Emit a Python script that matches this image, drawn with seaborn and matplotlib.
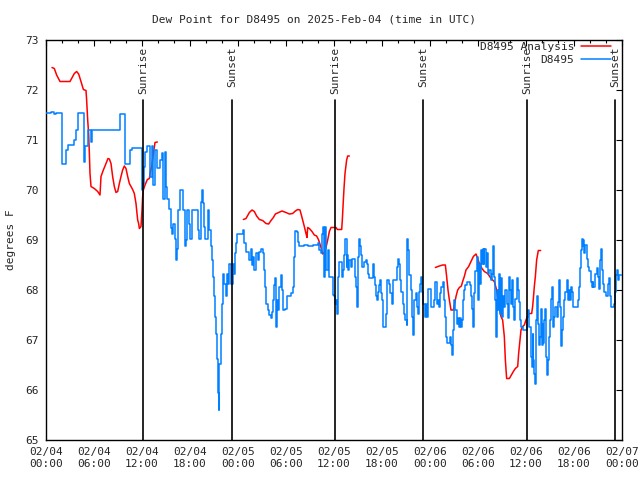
import matplotlib
matplotlib.use("Agg")
import matplotlib.pyplot as plt
import matplotlib.dates as mdates
from matplotlib.lines import Line2D
import numpy as np
import pandas as pd
import seaborn as sns

START = pd.Timestamp("2025-02-04 00:00")

# station observations (hours after start, deg F)
obs_hours = [
    0.0, 0.6, 1.0, 1.3, 2.0, 2.5, 2.75, 3.3, 3.5, 3.75, 4.0, 4.7, 4.9, 5.2, 5.6, 5.75,
    9.2, 9.9, 10.5, 10.7, 12.0, 12.08, 12.25, 12.375, 12.67, 13.0, 13.21, 13.42, 13.625, 13.92,
    14.25, 14.46, 14.67, 14.875, 15.0, 15.17, 15.42, 15.58, 15.75, 15.92, 16.125, 16.25, 16.42,
    16.54, 16.75, 17.17, 17.375, 17.5, 17.67, 17.83, 18.0, 18.21, 19.04, 19.17, 19.33, 19.5,
    19.58, 19.75, 19.875, 20.29, 20.42, 20.58, 20.71, 20.83, 21.0, 21.125, 21.25, 21.42, 21.54,
    21.58, 21.67, 21.83, 21.96, 22.08, 22.25, 22.5, 22.67, 22.79, 22.92, 23.125, 23.33, 23.5,
    23.625, 23.75, 23.92,
    24.67, 24.79, 25.0, 25.42, 25.625, 25.75, 25.92, 26.04, 26.25, 26.46, 26.67, 26.875, 27.08,
    27.21, 27.33, 27.5, 27.71, 27.92, 28.125, 28.25, 28.42, 28.54, 28.67, 28.75, 28.875, 29.0,
    29.17, 29.375, 29.5, 29.67, 29.92, 30.08, 30.625, 30.83, 31.04, 31.17, 31.375, 31.5, 31.67,
    32.29, 32.71, 33.33, 33.96, 34.17, 34.375, 34.5, 34.67, 34.79, 34.92, 35.0, 35.21, 35.42,
    35.92, 36.04, 36.125, 36.25, 36.42, 36.54, 36.67, 36.96, 37.08, 37.25, 37.42, 37.58, 37.67,
    37.79, 37.92, 38.08, 38.25, 38.625, 38.75, 38.92, 39.04, 39.17, 39.25, 39.375, 39.5, 39.79,
    40.0, 40.17, 40.29, 40.42, 40.83, 41.0, 41.125, 41.25, 41.42, 41.54, 41.67, 41.75, 41.875,
    42.0, 42.17, 42.5, 42.67, 42.83, 43.0, 43.21, 43.42, 43.83, 43.96, 44.08, 44.25, 44.42,
    44.58, 44.75, 44.92, 45.08, 45.17, 45.29, 45.42, 45.58, 45.71, 45.92, 46.04, 46.21, 46.33,
    46.46, 46.58, 46.75, 46.92, 47.04, 47.17, 47.375, 47.5, 47.58, 47.71,
    48.125, 48.54, 48.67, 48.83, 48.96, 49.08, 49.25, 49.42, 49.58, 49.71, 49.83, 50.0, 50.125,
    50.54, 50.67, 50.75, 50.92, 51.04, 51.17, 51.33, 51.46, 51.58, 51.75, 51.92, 52.0, 52.17,
    52.29, 52.42, 52.58, 53.0, 53.125, 53.25, 53.42, 53.54, 53.67, 53.83, 53.96, 54.08, 54.25,
    54.375, 54.5, 54.58, 54.71, 54.79, 55.0, 55.125, 55.25, 55.42, 55.58, 55.71, 55.83, 55.96,
    56.08, 56.21, 56.33, 56.46, 56.58, 56.71, 56.83, 56.96, 57.08, 57.25, 57.42, 57.58, 57.71,
    57.83, 58.0, 58.125, 58.25, 58.42, 58.54, 58.67, 58.83, 58.96, 59.08, 59.25, 59.375, 59.58,
    60.08, 60.29, 60.42, 60.58, 60.71, 60.83, 60.92, 61.04, 61.17, 61.25, 61.42, 61.54, 61.67,
    61.75, 61.83, 61.96, 62.08, 62.17, 62.25, 62.375, 62.5, 62.67, 62.79, 62.92, 63.0, 63.08,
    63.21, 63.33, 63.42, 63.54, 63.67, 63.83, 63.96, 64.08, 64.17, 64.25, 64.375, 64.5, 64.67,
    64.79, 64.92, 65.08, 65.21, 65.29, 65.42, 65.5, 65.625, 65.75, 65.92, 66.54, 66.67, 66.75,
    66.83, 66.96, 67.08, 67.17, 67.29, 67.42, 67.58, 67.79, 67.92, 68.08, 68.21, 68.33, 68.42,
    68.625, 68.83, 68.96, 69.08, 69.25, 69.375, 69.5, 69.67, 69.79, 70.0, 70.21, 70.42, 70.5,
    70.67, 71.0, 71.125, 71.25, 71.42, 71.54, 71.67, 72.0,
]
obs_values = [
    71.54, 71.57, 71.52, 71.55, 70.53, 70.8, 70.9, 70.9, 71.0, 71.2, 71.54, 70.57, 70.87, 71.2, 70.97, 71.21,
    71.53, 70.53, 70.8, 70.85, 70.0, 70.13, 70.47, 70.77, 70.87, 70.27, 70.87, 70.1, 70.8, 70.43,
    70.6, 70.73, 69.83, 70.77, 70.07, 69.83, 69.63, 69.23, 69.13, 69.33, 69.03, 68.6, 68.83,
    69.6, 70.0, 69.6, 68.87, 69.0, 69.6, 69.33, 69.03, 69.6, 69.2, 69.03, 69.77, 70.0,
    69.73, 69.27, 69.03, 69.6, 69.2, 68.87, 68.6, 68.27, 67.87, 67.47, 67.13, 66.63, 65.93,
    65.6, 66.53, 67.13, 67.73, 68.33, 68.13, 67.87, 68.33, 68.13, 68.53, 68.13, 68.53, 68.33,
    68.73, 68.93, 69.13,
    69.21, 68.93, 68.77, 68.6, 68.83, 68.5, 68.67, 68.4, 68.73, 68.6, 68.77, 68.83, 68.73,
    68.4, 68.07, 67.73, 67.6, 67.5, 67.43, 67.57, 67.8, 68.1, 68.23, 67.27, 67.8, 67.6,
    68.07, 68.3, 68.0, 67.6, 67.63, 67.87, 67.93, 68.07, 68.67, 69.19, 69.17, 68.97, 68.87,
    68.9, 68.87, 68.9, 68.93, 68.8, 68.73, 69.13, 69.27, 68.27, 69.27, 68.4, 68.8, 68.27,
    67.9, 67.87, 67.73, 67.8, 67.53, 68.27, 68.57, 68.27, 68.4, 68.7, 69.03, 68.47, 68.7,
    68.4, 68.6, 68.47, 68.63, 68.27, 68.07, 67.67, 68.67, 69.03, 68.87, 68.7, 68.47, 68.57,
    68.61, 68.53, 68.33, 68.23, 68.52, 68.27, 68.1, 67.87, 67.8, 67.97, 68.1, 68.2, 67.93,
    67.8, 67.27, 67.53, 68.21, 68.13, 67.93, 67.73, 68.21, 68.47, 68.63, 68.53, 68.2, 67.97,
    67.73, 67.53, 67.4, 67.3, 69.03, 68.8, 68.3, 68.0, 67.47, 67.1, 67.8, 67.93, 67.67,
    67.53, 67.97, 68.13, 68.27, 67.97, 67.73, 67.47, 67.73, 67.47, 68.03,
    67.67, 67.8, 68.17, 67.73, 67.8, 67.67, 67.93, 68.07, 68.17, 67.8, 67.47, 67.07, 66.93,
    67.07, 66.9, 66.7, 67.2, 67.8, 67.6, 67.33, 67.43, 67.27, 67.43, 67.27, 67.4, 67.8,
    68.0, 68.1, 68.17, 68.1, 67.87, 67.63, 67.27, 67.93, 68.37, 68.67, 67.8, 68.53, 68.13,
    68.8, 68.53, 68.83, 68.53, 68.83, 68.47, 68.73, 68.33, 68.4, 68.2, 68.33, 68.87, 68.27,
    67.8, 67.07, 68.0, 67.6, 68.33, 67.53, 68.23, 67.47, 67.87, 67.67, 68.0, 67.73, 67.43,
    68.27, 68.0, 67.73, 68.2, 67.67, 67.4, 67.83, 68.23, 68.0, 67.77, 67.4, 67.27, 67.2,
    67.47, 67.6, 67.27, 66.67, 66.47, 67.13, 66.6, 66.33, 66.13, 67.4, 67.87, 67.33, 66.9,
    67.07, 67.63, 66.9, 67.33, 66.93, 67.4, 67.63, 66.67, 66.3, 66.6, 67.07, 67.4, 67.83,
    68.07, 67.6, 67.27, 67.47, 67.67, 67.47, 67.77, 67.97, 68.2, 67.67, 66.87, 67.2, 67.47,
    67.8, 67.97, 68.2, 68.07, 67.8, 68.0, 67.8, 68.07, 67.97, 67.67, 67.8, 68.07, 68.43,
    68.8, 69.03, 68.87, 69.0, 68.73, 68.9, 68.63, 68.47, 68.37, 68.17, 68.07, 68.17, 68.07,
    68.33, 68.43, 68.27, 68.03, 68.6, 68.83, 68.4, 68.13, 67.97, 67.87, 68.13, 68.23, 67.87,
    67.67, 67.73, 67.97, 68.3, 68.4, 68.2, 68.3, 68.3,
]

# analysis runs, one block per day
ana_hours = [
    [0.75, 1.04, 1.33, 1.75, 3.0, 3.54, 3.83, 4.08, 4.375, 4.67, 5.0, 5.08, 5.21, 5.33, 5.42,
     5.5, 5.625, 6.04, 6.46, 6.75, 6.875, 7.17, 7.5, 7.75, 7.92, 8.125, 8.33, 8.54, 8.75, 8.96,
     9.17, 9.375, 9.58, 9.79, 10.0, 10.21, 10.42, 10.625, 10.83, 11.04, 11.25, 11.375, 11.46,
     11.58, 11.67, 11.875, 12.0, 12.08, 12.17, 12.375, 12.67, 12.92, 13.0, 13.21, 13.42,
     13.625, 13.92],
    [24.67, 25.0, 25.42, 25.75, 26.04, 26.33, 26.67, 27.08, 27.5, 27.83, 28.125, 28.42, 28.67,
     29.08, 29.5, 30.0, 30.42, 30.83, 31.17, 31.46, 31.75, 31.92, 32.08, 32.29, 32.5, 32.625,
     32.71, 32.92, 33.25, 33.54, 33.83, 34.08, 34.375, 34.58, 34.79, 35.0, 35.21, 35.42,
     35.625, 36.25, 36.42, 36.96, 37.04, 37.17, 37.25, 37.375, 37.58, 37.71, 37.92],
    [48.67, 49.17, 49.58, 49.92, 50.08, 50.25, 50.42, 50.625, 50.92, 51.08, 51.25, 51.46, 51.67,
     51.92, 52.08, 52.29, 52.5, 52.83, 53.125, 53.42, 53.75, 53.96, 54.17, 54.5, 54.79, 55.21,
     55.625, 56.04, 56.33, 56.58, 56.875, 57.08, 57.29, 57.42, 57.58, 57.92, 58.17, 58.42,
     58.67, 58.96, 59.08, 59.25, 59.375, 59.58, 59.79, 60.0, 60.17, 60.42, 60.71, 60.83, 60.92,
     61.04, 61.17, 61.33, 61.54, 61.83],
]
ana_values = [
    [72.45, 72.43, 72.3, 72.17, 72.17, 72.33, 72.37, 72.32, 72.17, 72.01, 71.99, 71.8, 71.4,
     71.13, 70.73, 70.33, 70.07, 70.03, 69.97, 69.9, 70.27, 70.4, 70.53, 70.63, 70.62, 70.53,
     70.27, 70.07, 69.95, 69.97, 70.13, 70.27, 70.4, 70.48, 70.43, 70.27, 70.13, 70.07, 70.01,
     69.93, 69.73, 69.53, 69.4, 69.33, 69.23, 69.27, 69.6, 69.87, 70.0, 70.1, 70.21, 70.23,
     70.33, 70.47, 70.73, 70.95, 70.96],
    [69.41, 69.43, 69.55, 69.6, 69.57, 69.48, 69.41, 69.39, 69.33, 69.32, 69.39, 69.45, 69.52,
     69.55, 69.58, 69.55, 69.52, 69.53, 69.58, 69.61, 69.6, 69.5, 69.4, 69.27, 69.13, 69.05,
     69.25, 69.23, 69.17, 69.1, 69.08, 69.0, 68.85, 68.72, 68.75, 68.85, 69.0, 69.17, 69.25,
     69.25, 69.21, 69.21, 69.4, 69.8, 70.03, 70.33, 70.6, 70.68, 70.68],
    [68.45, 68.48, 68.5, 68.5, 68.27, 68.0, 67.8, 67.6, 67.6, 67.73, 67.87, 68.0, 68.05, 68.08,
     68.17, 68.27, 68.4, 68.47, 68.57, 68.67, 68.72, 68.63, 68.53, 68.43, 68.37, 68.33, 68.23,
     68.17, 68.0, 67.73, 67.47, 67.4, 67.07, 66.6, 66.23, 66.23, 66.3, 66.37, 66.43, 66.47,
     66.73, 67.0, 67.2, 67.27, 67.3, 67.4, 67.47, 67.53, 67.53, 67.67, 67.83, 68.07, 68.27,
     68.6, 68.79, 68.79],
]

sun_hours = [12.125, 23.25, 36.125, 47.125, 60.125, 71.125]
sun_labels = ["Sunrise", "Sunset", "Sunrise", "Sunset", "Sunrise", "Sunset"]

RED = "#ff0000"
BLUE = "#0080ff"

obs = pd.DataFrame({"time": START + pd.to_timedelta(obs_hours, unit="h"), "dewpt": obs_values})
ana = pd.concat([
    pd.DataFrame({"time": START + pd.to_timedelta(h, unit="h"), "dewpt": v, "run": i})
    for i, (h, v) in enumerate(zip(ana_hours, ana_values))
], ignore_index=True)

sns.set_style("white")
plt.rcParams["font.family"] = ["DejaVu Sans Mono"]
plt.rcParams["font.size"] = 8

fig = plt.figure(figsize=(6.4, 4.8), dpi=100)
ax = fig.add_axes([46 / 640, 40 / 480, 576 / 640, 400 / 480])

sns.lineplot(data=obs, x="time", y="dewpt", color=BLUE, lw=1.1,
             drawstyle="steps-post", ax=ax, zorder=3)
sns.lineplot(data=ana, x="time", y="dewpt", units="run", estimator=None,
             color=RED, lw=1.1, ax=ax, zorder=2)

for h, lab in zip(sun_hours, sun_labels):
    t = START + pd.Timedelta(hours=h)
    ax.axvline(t, ymin=0, ymax=(440 - 100) / 400, color="black", lw=1.2, zorder=4)
    ax.text(t, (440 - 47) / 400, lab, transform=ax.get_xaxis_transform(),
            rotation=90, ha="center", va="top", fontsize=8)

ax.set_xlim(START, START + pd.Timedelta(hours=72))
ax.set_ylim(65, 73)
ax.set_yticks(np.arange(65, 74, 1))
ax.xaxis.set_major_locator(mdates.HourLocator(byhour=[0, 6, 12, 18]))
ax.xaxis.set_minor_locator(mdates.HourLocator(byhour=range(0, 24, 2)))
ax.xaxis.set_major_formatter(mdates.DateFormatter("%m/%d\n%H:%M"))

ax.tick_params(which="both", direction="in", top=True, right=True, color="black")
ax.tick_params(which="major", length=4, width=0.8, labelsize=8, pad=5)
ax.tick_params(which="minor", length=2, width=0.8)
for s in ax.spines.values():
    s.set_color("black")
    s.set_linewidth(1.0)

ax.set_xlabel("")
ax.set_ylabel("")
fig.text(11 / 640, 1 - 240 / 480, "degrees F", rotation=90,
         ha="center", va="center", fontsize=8)
fig.text(314 / 640, 1 - 20 / 480, "Dew Point for D8495 on 2025-Feb-04 (time in UTC)",
         ha="center", va="center", fontsize=8)

handles = [Line2D([], [], color=RED, lw=1.1), Line2D([], [], color=BLUE, lw=1.1)]
ax.legend(handles, ["D8495 Analysis", "D8495"], loc="upper right",
          bbox_to_anchor=(611 / 640, 1 - 42 / 480), bbox_transform=fig.transFigure,
          frameon=False, markerfirst=False, handlelength=2.7, handletextpad=0.6,
          labelspacing=0.25, borderpad=0, borderaxespad=0, fontsize=8)

fig.savefig("out.png", dpi=100)
